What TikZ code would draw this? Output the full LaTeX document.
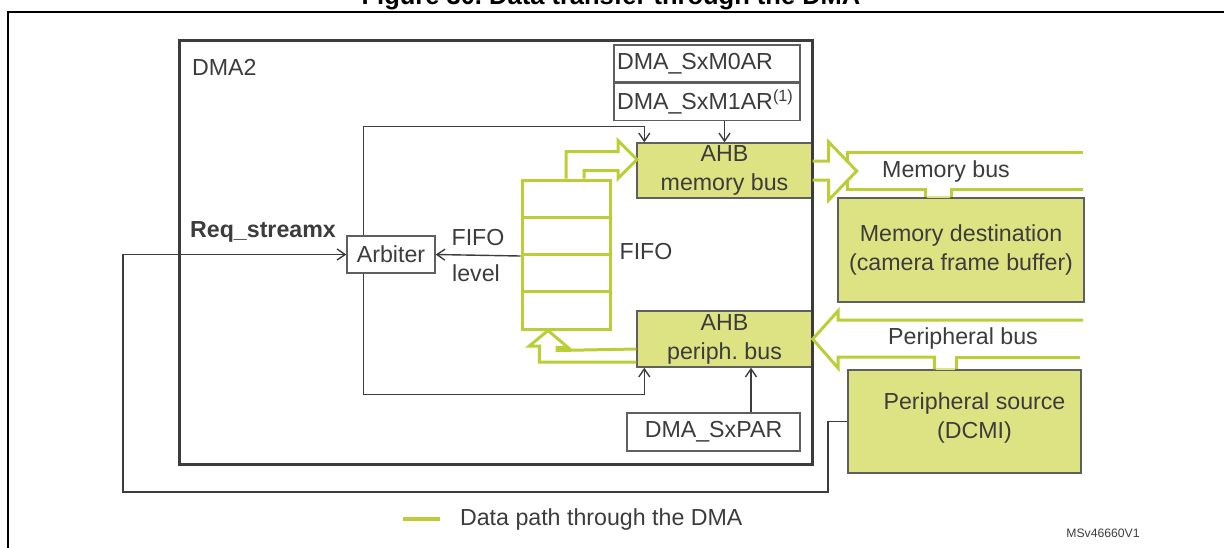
\documentclass[tikz,border=0pt]{standalone}
\usepackage{fontspec}
\setmainfont{Liberation Sans}
\usetikzlibrary{arrows.meta,positioning}

\definecolor{busfill}{RGB}{221,227,131}
\definecolor{pathgreen}{RGB}{188,206,55}
\definecolor{inkgray}{RGB}{60,60,60}
\definecolor{edgegray}{RGB}{95,95,95}

\begin{document}
\begin{tikzpicture}[
    x=0.5pt, y=-0.5pt,
    every node/.style={font=\fontsize{11.6}{14.5}\selectfont, text=inkgray},
    box/.style={rectangle, draw=edgegray, line width=0.7pt, fill=busfill, align=center, inner sep=0pt},
    plainbox/.style={rectangle, draw=edgegray, line width=0.7pt, fill=white, align=center, inner sep=0pt},
    regbox/.style={rectangle, draw=edgegray, line width=0.7pt, fill=white, minimum height=18.5pt, text width=90pt, inner xsep=1.5pt, inner ysep=0pt, align=left},
    fifocell/.style={rectangle, draw=pathgreen, line width=1.5pt, minimum width=44pt, minimum height=18.625pt, inner sep=0pt},
    wire/.style={draw=inkgray, line width=0.7pt},
    sig/.style={wire, -{Straight Barb[length=4pt,width=5.5pt]}},
    datapath/.style={draw=pathgreen, line width=1.5pt}
  ]
    \useasboundingbox (0,0) rectangle (1224,547);
    \clip (0,0) rectangle (1224,547);

    % page frame and caption
    \node[font=\fontsize{12.75}{15}\selectfont\bfseries, text=black, anchor=base] (title) at (611,4) {Figure 30.\ Data transfer through the DMA};
    \draw[line width=1.4pt] (1240,12) -- (8,12) -- (8,560);

    % registers
    \node[regbox] (m0ar) at (707,63.5) {DMA\_SxM0AR};
    \node[regbox, below=0pt of m0ar] (m1ar) {DMA\_SxM1AR\textsuperscript{(1)}};
    \node[plainbox, minimum width=86.5pt, minimum height=19pt] (sxpar) at (713.5,432) {DMA\_SxPAR};

    % AHB ports
    \node[box, minimum width=87.5pt, minimum height=27.5pt] (memahb) at (724.5,170.5) {AHB\\memory bus};
    \node[box, minimum width=87.5pt, minimum height=28pt] (perahb) at (724.5,339) {AHB\\periph.\ bus};

    % DMA2 frame
    \node[rectangle, draw=inkgray, line width=1.5pt, minimum width=316.5pt, minimum height=212pt, inner sep=0pt] (dma) at (495.5,252) {};
    \node[anchor=west] (dmalabel) at (185,67) {DMA2};

    \node[plainbox, minimum width=44pt, minimum height=18.5pt] (arbiter) at (391,254.5) {Arbiter};

    % FIFO stack
    \foreach \i in {0,...,3}
      \node[fifocell] (f\i) at (566,{198.625+37.25*\i}) {};
    \node (fifolabel) at (646,252) {FIFO};
    \node (levelfifo) at (478,238) {FIFO};
    \node (levellabel) at (476,273) {level};

    % outside the DMA
    \node[box, minimum width=123pt, minimum height=52pt] (memdest) at (961,250) {Memory destination\\(camera frame buffer)};
    \node[box, minimum width=116.5pt, minimum height=51.5pt] (psrc) at (964.5,421.5) {};
    \node[align=center] (psrctext) at ([xshift=5pt,yshift=2pt]psrc.center) {Peripheral source\\(DCMI)};
    \node (mbus) at (946,171) {Memory bus};
    \node (pbus) at (963,338) {Peripheral bus};
    \node[font=\fontsize{11.6}{14.5}\selectfont\bfseries] (req) at (263,232) {Req\_streamx};

    % control signals
    \draw[sig] (psrc.west) -| (828,492) -| (123,254.5) -- (arbiter.west);
    \draw[sig] ([xshift=8.5pt]arbiter.north west) -- ++(0,-109) -| ([xshift=4pt]memahb.north west);
    \draw[sig] ([xshift=8.5pt]arbiter.south west) -- ++(0,121) -| ([xshift=4pt]perahb.south west);
    \draw[sig] (f1.south west) -- (arbiter.east);
    \draw[sig] (memahb.north |- m1ar.south) -- (memahb.north);
    \draw[sig] ([xshift=18.75pt]sxpar.north) -- ([xshift=18.75pt]sxpar.north |- perahb.south);

    % data path
    \draw[datapath] (f0.north) -- ++(0,-27) -- ++(52,0) -- ++(0,-11) -- ++(19,19) -- ++(-19,19) -- ++(0,-8) -- ++(-34,0) -- ++(0,8);
    \draw[datapath] ([yshift=4.75pt]memahb.east) -- ++(16,0) -- ++(0,-19) -- ++(28,29) -- ++(-28,29) -- ++(0,-20) -- ++(-16,0);
    \draw[datapath] (1083,152) -- (847,152) -- (847,162);
    \draw[datapath] (847,180) -- (847,189) -| ([xshift=44pt]memdest.north west);
    \draw[datapath] ([xshift=57pt]memdest.north west) |- (1083,189);
    \draw[busfill, line width=1pt] ([xshift=44.75pt]memdest.north west) -- ([xshift=56.25pt]memdest.north west);

    \draw[datapath] (1083,320) -- (838,320) -- (838,311) -- (perahb.east) -- (838,368) -- (838,357) -| ([xshift=43.5pt]psrc.north west);
    \draw[datapath] ([xshift=54.5pt]psrc.north west) |- (1080,357);
    \draw[busfill, line width=1pt] ([xshift=44.25pt]psrc.north west) -- ([xshift=53.75pt]psrc.north west);

    \draw[datapath] ([yshift=-11.5pt]perahb.west) -- ++(-97,0) -- ++(0,-16) -- ++(-10,0) -- ([xshift=-9pt]f3.south) -- ++(20,17) -- ++(-11,0) -- ++(0,3) -- ([yshift=-5pt]perahb.west);

    % legend
    \node[anchor=west] (legend) at (453,519) {Data path through the DMA};
    \draw[datapath, line width=2pt] ([xshift=-6.5pt]legend.west) -- ++(-37,0);
    \node[font=\fontsize{6.1}{7.5}\selectfont] (docid) at (1103,533) {MSv46660V1};
  \end{tikzpicture}
\end{document}
